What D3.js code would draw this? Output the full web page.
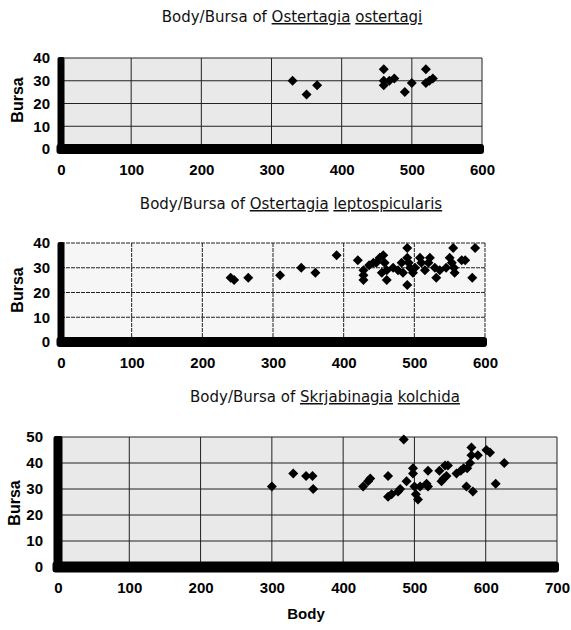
<!DOCTYPE html>
<html><head><meta charset="utf-8">
<script src="https://cdn.jsdelivr.net/npm/d3@7"></script>
<style>
body{margin:0;background:#fff}
text{font-family:"Liberation Sans",Arial,sans-serif}
text.ttl{font-family:"DejaVu Sans",sans-serif}
</style>
</head><body>
<svg id="c" width="571" height="630"></svg>
<script>
// ---------- data ----------
const bodyTicksA = [0,100,200,300,400,500,600];
const bodyTicksB = [0,100,200,300,400,500,600,700];
const bursaTicksA = [0,10,20,30,40];
const bursaTicksB = [0,10,20,30,40,50];

const titleGenus = ["Ostertagia","Ostertagia","Skrjabinagia"];
const titleSpecies = ["ostertagi","leptospicularis","kolchida"];

const ostertagiBody  = [330,350,365,460,460,460,468,475,490,500,520,520,525,530];
const ostertagiBursa = [30, 24, 28, 35, 30, 28, 30, 31, 25, 29, 35, 29, 30, 31];

const leptoBody  = [240,245,265,310,340,360,390,420,428,428,428,436,442,446,451,456,458,454,461,461,470,477,482,484,490,490,492,494,490,498,501,508,510,515,520,522,529,531,536,545,550,555,553,556,557,567,572,582,586];
const leptoBursa = [26, 25, 26, 27, 30, 28, 35, 33, 29, 27, 25, 31, 32, 32, 34, 35, 32, 28, 29, 25, 30, 29, 32, 28, 38, 34, 32, 30, 23, 28, 30, 34, 32, 29, 32, 34, 30, 26, 29, 30, 34, 38, 32, 30, 28, 33, 33, 26, 38];

const kolchidaBody  = [300,330,348,357,358,428,435,438,463,463,468,477,480,485,489,498,498,500,502,505,508,517,519,519,535,538,541,543,545,547,559,565,569,574,578,573,582,580,580,589,601,606,614,626];
const kolchidaBursa = [31, 36, 35, 35, 30, 31, 33, 34, 35, 27, 28, 29, 30, 49, 33, 38, 36, 31, 28, 26, 31, 32, 37, 31, 37, 33, 34, 39, 35, 39, 36, 37, 38, 38, 40, 31, 29, 46, 43, 43, 45, 44, 32, 40];

// ---------- layout ----------
const charts = [
  {body: ostertagiBody, bursa: ostertagiBursa, xt: bodyTicksA, yt: bursaTicksA,
   x0:61, x1:482, yT:58, yB:149, tx:292, ty:22, ylx:17, yly:100, ytr:50, xlab:null,
   bg:"#e9e9e9", dash:null, barW:7, barH:10},
  {body: leptoBody, bursa: leptoBursa, xt: bodyTicksA, yt: bursaTicksA,
   x0:61, x1:485, yT:243, yB:342, tx:291, ty:209, ylx:17, yly:290, ytr:50, xlab:null,
   bg:"#f6f6f6", dash:"4,1", barW:7, barH:10},
  {body: kolchidaBody, bursa: kolchidaBursa, xt: bodyTicksB, yt: bursaTicksB,
   x0:58, x1:557, yT:437, yB:567, tx:325, ty:402, ylx:14, yly:503, ytr:43, xlab:"Body",
   bg:"#e9e9e9", dash:null, barW:9, barH:11}
];

const svg = d3.select("#c");

charts.forEach((c, i) => {
  const xMax = c.xt[c.xt.length-1], yMax = c.yt[c.yt.length-1];
  const x = d3.scaleLinear().domain([0, xMax]).range([c.x0, c.x1]);
  const y = d3.scaleLinear().domain([0, yMax]).range([c.yB, c.yT]);
  const g = svg.append("g");

  // title
  const t = g.append("text").attr("class","ttl").attr("x", c.tx).attr("y", c.ty)
    .attr("text-anchor","middle").attr("font-size", 15).attr("fill","#111");
  t.append("tspan").text("Body/Bursa of ");
  t.append("tspan").attr("text-decoration","underline").text(titleGenus[i]);
  t.append("tspan").text(" ");
  t.append("tspan").attr("text-decoration","underline").text(titleSpecies[i]);

  // background
  g.append("rect").attr("x", x(0)).attr("y", y(yMax))
    .attr("width", x(xMax)-x(0)).attr("height", y(0)-y(yMax)).attr("fill", c.bg);

  // gridlines
  g.selectAll(".hg").data(c.yt.filter(d=>d>0)).join("line")
    .attr("x1", x(0)).attr("x2", x(xMax)).attr("y1", d=>y(d)).attr("y2", d=>y(d))
    .attr("stroke","#222").attr("stroke-width",1).attr("stroke-dasharray", c.dash);
  g.selectAll(".vg").data(c.xt.filter(d=>d>0)).join("line")
    .attr("y1", y(0)).attr("y2", y(yMax)).attr("x1", d=>x(d)).attr("x2", d=>x(d))
    .attr("stroke","#222").attr("stroke-width",1).attr("stroke-dasharray", c.dash);

  // points
  const sym = d3.symbol().type(d3.symbolSquare).size(50);
  g.selectAll(".pt").data(c.body.map((b,k)=>[b, c.bursa[k]])).join("path")
    .attr("d", sym)
    .attr("transform", d=>`translate(${x(d[0])},${y(d[1])}) rotate(45)`)
    .attr("fill","#000");

  // thick axis bars
  g.append("rect").attr("x", x(0)-c.barW/2).attr("y", y(yMax)-1)
    .attr("width", c.barW).attr("height", y(0)-y(yMax)+4).attr("rx",2).attr("fill","#000");
  g.append("rect").attr("x", x(0)-c.barW/2-1).attr("y", y(0)-c.barH/2)
    .attr("width", x(xMax)-x(0)+c.barW/2+3).attr("height", c.barH).attr("rx",3).attr("fill","#000");

  // axes (labels only)
  const ax = g.append("g").attr("transform", `translate(0,${y(0)+c.barH/2})`)
    .call(d3.axisBottom(x).tickValues(c.xt).tickSize(0).tickPadding(10));
  const ay = g.append("g").attr("transform", `translate(${c.ytr+1},0)`)
    .call(d3.axisLeft(y).tickValues(c.yt).tickSize(0).tickPadding(1));
  [ax, ay].forEach(a => {
    a.select(".domain").remove();
    a.selectAll("text").attr("font-size", 15).attr("font-weight","bold")
      .attr("font-family",'"Liberation Sans",Arial,sans-serif').attr("fill","#000");
  });

  // axis titles
  g.append("text").attr("transform", `translate(${c.ylx},${c.yly}) rotate(-90)`)
    .attr("text-anchor","middle").attr("dy","0.35em")
    .attr("font-size",16).attr("font-weight","bold").text("Bursa");
  if (c.xlab) {
    g.append("text").attr("x", 306).attr("y", 619).attr("text-anchor","middle")
      .attr("font-size",15).attr("font-weight","bold").text(c.xlab);
  }
});
</script>
</body></html>
